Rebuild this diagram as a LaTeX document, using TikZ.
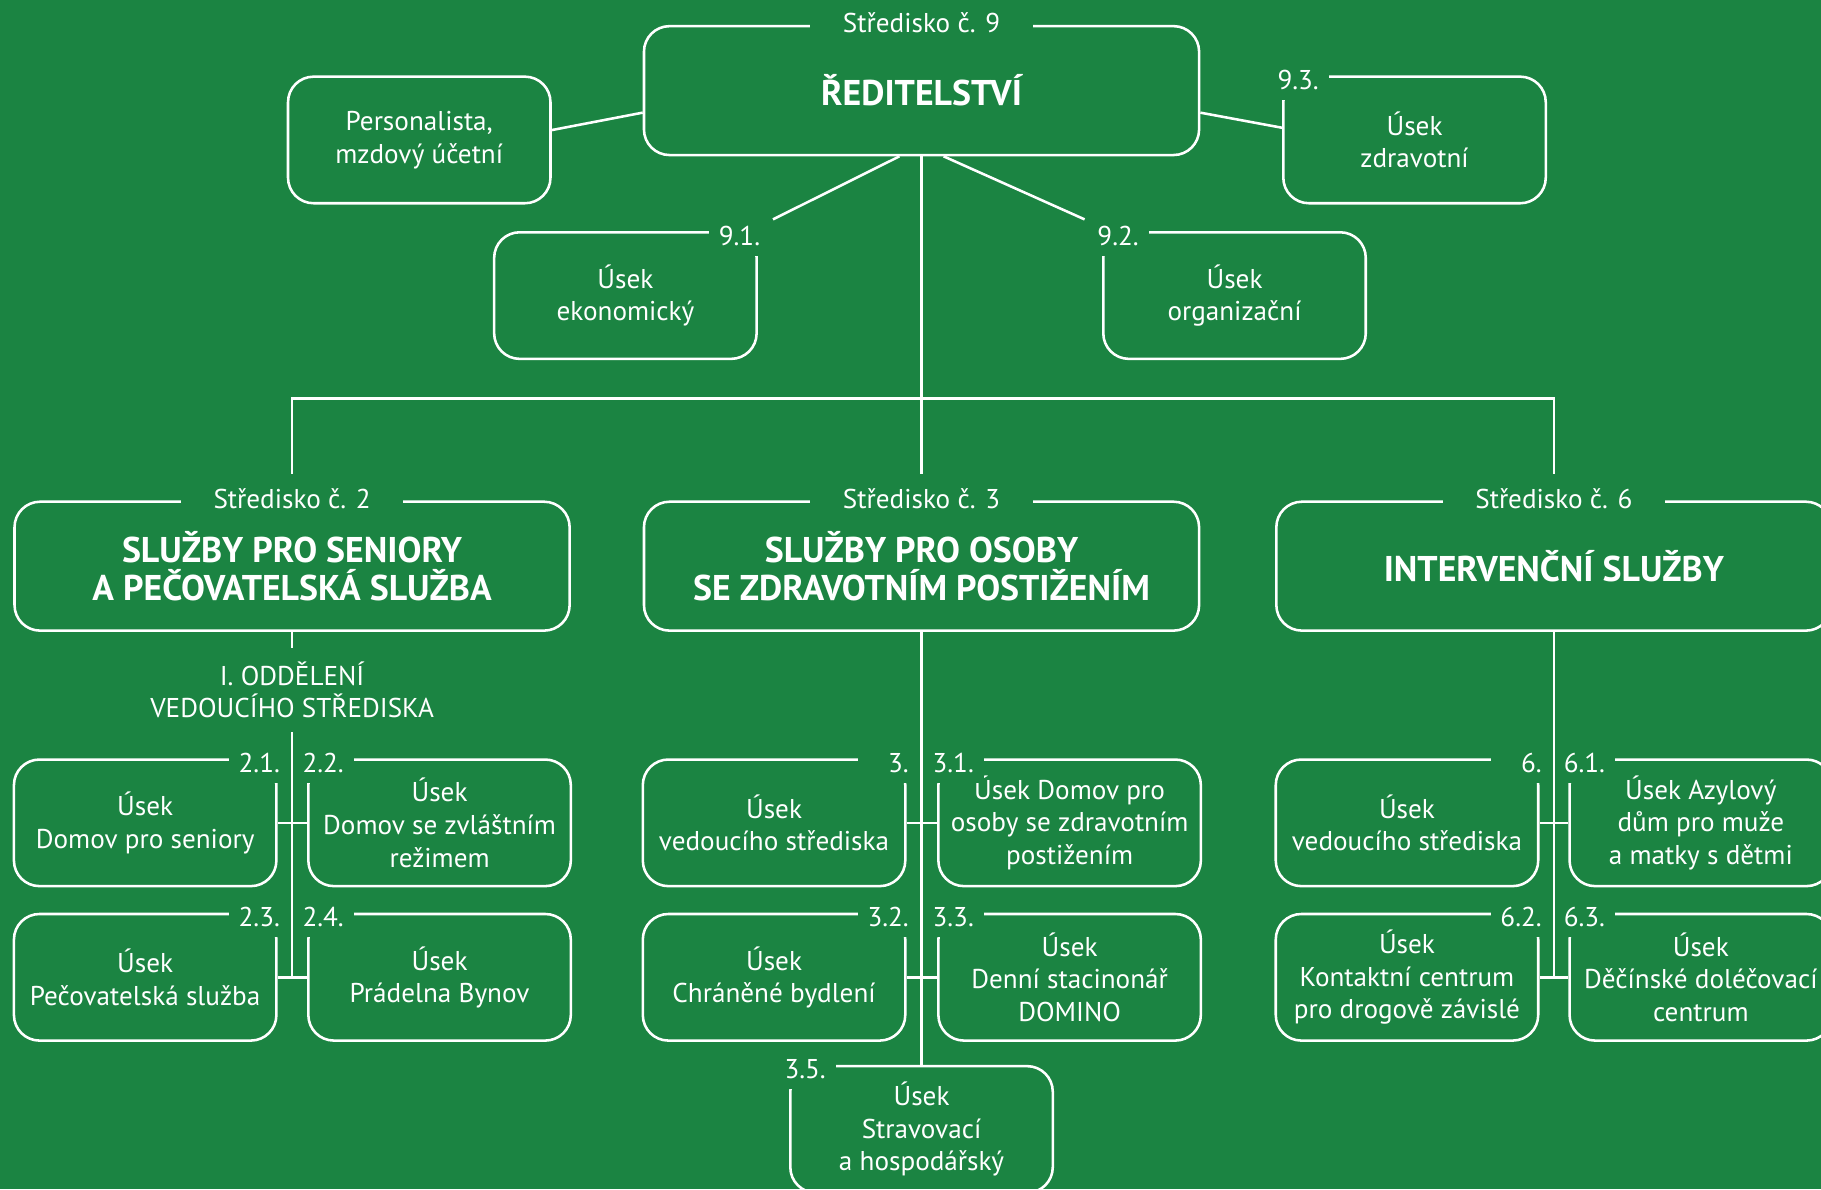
\documentclass[tikz,border=0pt]{standalone}
\usepackage{fontspec}
\setmainfont{PT Sans}
\definecolor{bggreen}{RGB}{27,132,66}

\begin{document}
\begin{tikzpicture}[
                      x = 0.5pt,
                      y = -0.5pt,
                  color = white,
             line width = 1.1pt,
      every node/.style = {font=\fontsize{11.7}{14}\selectfont, align=center},
            unit/.style = {draw, rounded corners=11pt, minimum width=113pt,
                           minimum height=54.5pt, inner sep=0pt},
          centre/.style = {unit, minimum width=239pt, minimum height=55.5pt,
                           font=\fontsize{15.4}{16}\selectfont\bfseries},
            head/.style = {fill=bggreen, inner xsep=14pt, inner ysep=6.5pt,
                           text height=8pt, text depth=1pt},
            numr/.style = {fill=bggreen, text width=21pt, inner xsep=1pt, inner ysep=0pt,
                           minimum height=17pt, align=right, anchor=north east},
            numl/.style = {numr, align=left, anchor=north west},
                     ]
\useasboundingbox (0,0) rectangle (1568,1024);
\clip (0,0) rectangle (1568,1024);
\fill[bggreen] (0,0) rectangle (1568,1024);

% reditelstvi
\node[centre] (dir)   at (793.5,78)    {ŘEDITELSTVÍ};
\node[unit]   (pers)  at (361,120.5)   {Personalista,\\mzdový účetní};
\node[unit]   (zdrav) at (1218,120.5)  {Úsek\\zdravotní};
\node[unit]   (ekon)  at (538.5,254.5) {Úsek\\ekonomický};
\node[unit]   (org)   at (1063,254.5)  {Úsek\\organizační};

% strediska
\node[centre] (s2) at (251.5,487.5) {SLUŽBY PRO SENIORY\\A PEČOVATELSKÁ SLUŽBA};
\node[centre] (s3) at (793.5,487.5) {SLUŽBY PRO OSOBY\\SE ZDRAVOTNÍM POSTIŽENÍM};
\node[centre] (s6) at (1338,487.5)  {INTERVENČNÍ SLUŽBY};

% stredisko 2
\node[minimum height=35pt] (odd) at (251.5,594) {I. ODDĚLENÍ\\VEDOUCÍHO STŘEDISKA};
\node[unit] (b21) at (125,708.5)   {Úsek\\Domov pro seniory};
\node[unit] (b22) at (378.5,708.5) {Úsek\\Domov se zvláštním\\režimem};
\node[unit] (b23) at (125,841.5)   {Úsek\\Pečovatelská služba};
\node[unit] (b24) at (378.5,841.5) {Úsek\\Prádelna Bynov};

% stredisko 3
\node[unit] (b30) at (666.5,708.5) {Úsek\\vedoucího střediska};
\node[unit] (b31) at (921,708.5)   {Úsek Domov pro\\osoby se zdravotním\\postižením};
\node[unit] (b32) at (666.5,841.5) {Úsek\\Chráněné bydlení};
\node[unit] (b33) at (921,841.5)   {Úsek\\Denní stacinonář\\DOMINO};
\node[unit] (b35) at (793.5,972.5) {Úsek\\Stravovací\\a hospodářský};

% stredisko 6
\node[unit] (b60) at (1211.5,708.5) {Úsek\\vedoucího střediska};
\node[unit] (b61) at (1464.5,708.5) {Úsek Azylový\\dům pro muže\\a matky s dětmi};
\node[unit] (b62) at (1211.5,841.5) {Úsek\\Kontaktní centrum\\pro drogově závislé};
\node[unit] (b63) at (1464.5,841.5) {Úsek\\Děčínské doléčovací\\centrum};

% cisla
\node[head] (l9) at (dir.north) {Středisko č. 9};
\node[head] (l2) at (s2.north)  {Středisko č. 2};
\node[head] (l3) at (s3.north)  {Středisko č. 3};
\node[head] (l6) at (s6.north)  {Středisko č. 6};
\node[numr] (l91) at ([xshift=2.5pt,yshift=7pt]ekon.north east)  {9.1.};
\node[numl] (l92) at ([xshift=-3.5pt,yshift=7pt]org.north west)  {9.2.};
\node[numl] (l93) at ([xshift=-3.5pt,yshift=7pt]zdrav.north west) {9.3.};
\node[numr] (l21) at ([xshift=2.5pt,yshift=7pt]b21.north east)  {2.1.};
\node[numl] (l22) at ([xshift=-3.5pt,yshift=7pt]b22.north west) {2.2.};
\node[numr] (l23) at ([xshift=2.5pt,yshift=7pt]b23.north east)  {2.3.};
\node[numl] (l24) at ([xshift=-3.5pt,yshift=7pt]b24.north west) {2.4.};
\node[numr] (l30) at ([xshift=2.5pt,yshift=7pt]b30.north east)  {3.};
\node[numl] (l31) at ([xshift=-3.5pt,yshift=7pt]b31.north west) {3.1.};
\node[numr] (l32) at ([xshift=2.5pt,yshift=7pt]b32.north east)  {3.2.};
\node[numl] (l33) at ([xshift=-3.5pt,yshift=7pt]b33.north west) {3.3.};
\node[numl] (l35) at ([xshift=-3.5pt,yshift=7pt]b35.north west) {3.5.};
\node[numr] (l60) at ([xshift=2.5pt,yshift=7pt]b60.north east)  {6.};
\node[numl] (l61) at ([xshift=-3.5pt,yshift=7pt]b61.north west) {6.1.};
\node[numr] (l62) at ([xshift=2.5pt,yshift=7pt]b62.north east)  {6.2.};
\node[numl] (l63) at ([xshift=-3.5pt,yshift=7pt]b63.north west) {6.3.};

% spoje
\coordinate (bar) at (793.5,343);
\draw ([yshift=4.25pt]pers.east) -- ([yshift=-9.5pt]dir.west);
\draw ([yshift=-9.5pt]dir.east) -- ([yshift=5.25pt]zdrav.west);
\draw ([xshift=-9.5pt]dir.south) -- ([xshift=4pt,yshift=-2pt]l91.north east);
\draw ([xshift=9.5pt]dir.south) -- ([xshift=-4pt,yshift=-2pt]l92.north west);
\draw (dir.south) -- (l3.north);
\draw (l2.north) -- (l2.north |- bar) -- (l6.north |- bar) -- (l6.north);

\draw (s2.south) -- (odd.north);
\draw (odd.south) -- (odd.south |- b23.east);
\draw (b21.east) -- (b22.west);
\draw (b23.east) -- (b24.west);

\draw (s3.south) -- (b35.north);
\draw (b30.east) -- (b31.west);
\draw (b32.east) -- (b33.west);

\draw (s6.south) -- (s6.south |- b62.east);
\draw (b60.east) -- (b61.west);
\draw (b62.east) -- (b63.west);
\end{tikzpicture}
\end{document}
